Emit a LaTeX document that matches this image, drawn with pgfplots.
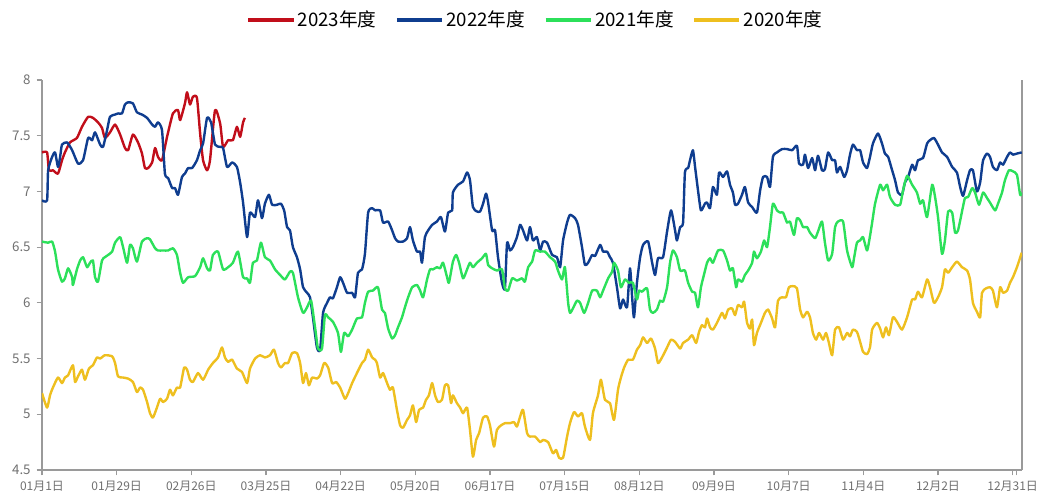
\documentclass[border=0pt]{standalone}
\usepackage{pgfplots}
\pgfplotsset{compat=1.18}
\usepackage{fontspec}
\setmainfont{Noto Sans CJK SC}
\definecolor{cRed}{HTML}{C10E1A}
\definecolor{cBlue}{HTML}{0F3D8F}
\definecolor{cGreen}{HTML}{2CE05A}
\definecolor{cYellow}{HTML}{EEBF1F}
\definecolor{cAxis}{HTML}{9A9A9A}
\definecolor{cTick}{HTML}{707070}
\begin{document}
\begin{tikzpicture}
\begin{axis}[name=ax,
  scale only axis, width=735pt, height=292.5pt,
  xmin=0, xmax=367.5, ymin=4.5, ymax=8,
  axis x line*=bottom, axis y line*=box, ytick pos=left,
  axis line style={cAxis, line width=0.9pt, -},
  tick align=outside, major tick length=4pt,
  tick style={cAxis, line width=0.8pt},
  xtick={0,28,56,84,112,140,168,196,224,252,280,308,336,364},
  xticklabels={01月1日,01月29日,02月26日,03月25日,04月22日,05月20日,06月17日,07月15日,08月12日,09月9日,10月7日,11月4日,12月2日,12月31日},
  extra x ticks={365.6}, extra x tick labels={},
  ytick={4.5,5,5.5,6,6.5,7,7.5,8},
  yticklabels={4.5,5,5.5,6,6.5,7,7.5,8},
  ticklabel style={font=\fontsize{9pt}{10pt}\selectfont, text=cTick},
  yticklabel style={font=\fontsize{10pt}{11pt}\selectfont, xshift=-1pt},
  /pgf/number format/assume math mode=true,
  xticklabel style={yshift=-1pt},
  legend columns=4,
  legend style={at={(0.504,1.154)}, anchor=center, draw=none, fill=none,
    font=\fontsize{14pt}{16pt}\selectfont,
    /tikz/every even column/.append style={column sep=12pt}},
  legend image code/.code={\draw[#1, line width=2.4pt] (0pt,0pt) -- (34pt,0pt);},
  every axis plot/.append style={line width=1.8pt, line join=round, smooth, tension=0.35},
]
\addplot[cRed] coordinates {
(0,7.35)(1.9,7.35)(2.6,7.19)(4.1,7.19)(6.0,7.16)(7.5,7.28)(8.6,7.35)(10.5,7.44)(13.1,7.48)(15.0,7.58)(17.3,7.67)(19.1,7.66)(21.0,7.62)(22.5,7.57)(23.6,7.48)(25.5,7.53)(27.4,7.60)(29.3,7.51)(31.1,7.39)(32.3,7.37)(34.1,7.51)(36.0,7.44)(37.5,7.34)(38.6,7.21)(39.8,7.21)(41.3,7.26)(42.4,7.39)(43.5,7.31)(45.0,7.28)(46.9,7.49)(49.1,7.70)(51.0,7.73)(51.8,7.64)(53.6,7.79)(54.4,7.89)(55.5,7.78)(56.6,7.85)(58.1,7.84)(59.3,7.52)(60.4,7.28)(61.9,7.19)(63.0,7.28)(64.9,7.73)(66.8,7.61)(67.9,7.40)(69.8,7.46)(71.6,7.46)(73.1,7.58)(74.3,7.49)(75.4,7.62)(76.1,7.66)
};
\addlegendentry{2023年度}
\addplot[cBlue] coordinates {
(0,6.92)(1.9,6.92)(2.3,7.19)(3.8,7.31)(4.9,7.35)(6.0,7.22)(6.8,7.31)(7.5,7.42)(9.4,7.44)(11.3,7.37)(13.5,7.25)(15.4,7.28)(17.3,7.48)(18.8,7.46)(19.9,7.53)(21.8,7.42)(22.9,7.40)(24.4,7.55)(25.5,7.67)(27.4,7.69)(28.5,7.70)(30.0,7.70)(31.1,7.78)(32.3,7.80)(34.1,7.79)(35.6,7.71)(37.5,7.69)(39.4,7.66)(41.3,7.60)(42.4,7.58)(43.5,7.62)(45.0,7.55)(46.1,7.16)(47.3,7.12)(48.8,7.03)(49.9,7.03)(51.0,6.97)(52.5,7.13)(53.6,7.16)(54.8,7.21)(56.3,7.21)(58.1,7.28)(59.3,7.37)(60.4,7.43)(61.9,7.66)(63.4,7.62)(64.9,7.42)(66.8,7.40)(67.9,7.39)(69.4,7.22)(71.3,7.26)(73.1,7.22)(74.3,7.08)(75.4,6.90)(76.9,6.59)(78.0,6.81)(79.9,6.77)(81.0,6.92)(82.5,6.76)(83.6,6.89)(85.1,6.97)(86.3,6.88)(88.1,6.88)(89.6,6.89)(90.8,6.83)(91.9,6.68)(93.0,6.65)(94.1,6.50)(95.6,6.41)(96.8,6.30)(97.9,6.14)(99.4,6.09)(100.5,6.05)(101.6,5.87)(103.1,5.60)(104.3,5.58)(105.4,5.91)(106.9,6.00)(108.0,6.05)(109.1,6.04)(110.6,6.14)(111.8,6.23)(112.9,6.18)(114.4,6.09)(116.3,6.09)(117.4,6.05)(118.5,6.27)(120.0,6.30)(121.1,6.44)(122.3,6.81)(123.8,6.85)(124.9,6.83)(126.8,6.83)(127.9,6.72)(129.8,6.73)(131.3,6.65)(132.4,6.58)(133.5,6.55)(135.4,6.55)(136.9,6.58)(138.0,6.68)(139.1,6.56)(140.6,6.46)(141.8,6.46)(142.5,6.36)(143.6,6.59)(144.8,6.65)(146.3,6.70)(148.1,6.73)(149.6,6.77)(151.1,6.64)(152.3,6.81)(153.8,6.83)(154.1,6.99)(156.0,7.06)(157.9,7.09)(159.4,7.17)(160.5,7.10)(161.6,6.86)(163.1,6.82)(164.3,6.82)(165.4,6.89)(166.5,6.98)(167.3,6.90)(168.8,6.65)(169.9,6.65)(171.0,6.41)(172.5,6.18)(173.6,6.13)(174.4,6.54)(175.5,6.47)(176.6,6.50)(178.1,6.59)(179.3,6.70)(180.4,6.65)(181.9,6.56)(183.0,6.68)(184.1,6.56)(185.6,6.59)(186.8,6.47)(187.9,6.55)(189.4,6.54)(191.3,6.43)(193.1,6.41)(194.3,6.32)(195.4,6.56)(196.9,6.72)(198.0,6.79)(199.9,6.76)(201.0,6.70)(202.5,6.50)(203.6,6.34)(204.8,6.36)(206.3,6.43)(207.4,6.42)(209.3,6.52)(210.4,6.46)(211.9,6.46)(213.0,6.41)(214.1,6.36)(215.6,6.14)(216.8,5.95)(217.9,6.03)(219.4,5.96)(220.5,6.31)(221.3,6.05)(222.0,5.87)(223.1,6.18)(224.3,6.41)(225.4,6.52)(227.3,6.55)(228.8,6.36)(229.9,6.25)(231.0,6.40)(232.9,6.41)(234.4,6.64)(235.9,6.83)(237.4,6.65)(238.1,6.56)(239.3,6.68)(240.4,6.72)(241.1,7.17)(242.3,7.21)(243.0,7.28)(244.1,7.37)(244.9,7.22)(246.0,7.01)(247.1,6.83)(248.6,6.89)(249.4,6.90)(250.5,6.85)(251.6,7.04)(253.1,6.97)(253.9,7.17)(255.4,7.13)(256.9,7.18)(258.0,7.06)(259.1,6.99)(259.9,6.88)(261.0,6.89)(262.5,6.97)(263.6,7.04)(264.8,6.90)(266.3,6.86)(268.1,6.81)(269.3,7.01)(270.4,7.13)(271.9,7.13)(273.0,7.04)(274.1,7.31)(275.6,7.35)(277.5,7.38)(279.4,7.38)(281.3,7.37)(283.1,7.41)(283.9,7.25)(285.4,7.24)(286.1,7.33)(287.3,7.21)(288.8,7.30)(289.9,7.19)(291.0,7.32)(292.5,7.19)(293.6,7.20)(294.8,7.35)(296.3,7.28)(297.4,7.28)(298.1,7.17)(299.3,7.22)(300.8,7.13)(301.9,7.19)(303.0,7.33)(304.1,7.42)(305.6,7.37)(306.8,7.37)(307.9,7.26)(309.4,7.21)(310.5,7.31)(311.6,7.43)(313.5,7.52)(315.0,7.43)(316.1,7.34)(317.3,7.31)(318.8,7.19)(319.9,7.10)(321.0,6.99)(322.5,6.97)(323.6,7.08)(324.8,7.13)(326.3,7.24)(327.4,7.19)(328.5,7.28)(330.4,7.30)(331.9,7.43)(333.0,7.46)(334.5,7.48)(336.0,7.42)(337.5,7.35)(339.4,7.31)(341.3,7.22)(343.1,7.17)(344.3,7.04)(345.4,6.96)(346.9,7.10)(348.0,7.19)(349.1,7.19)(350.6,7.00)(351.8,7.08)(352.9,7.28)(354.4,7.34)(355.5,7.31)(356.6,7.22)(358.1,7.19)(359.3,7.26)(360.4,7.24)(361.9,7.31)(363.0,7.35)(364.1,7.33)(365.6,7.34)(367.4,7.35)
};
\addlegendentry{2022年度}
\addplot[cGreen] coordinates {
(0,6.55)(2.3,6.54)(3.8,6.55)(4.9,6.46)(6.0,6.30)(7.5,6.19)(8.6,6.22)(9.8,6.31)(11.3,6.23)(11.6,6.16)(13.1,6.30)(14.3,6.38)(15.4,6.41)(16.9,6.32)(18.0,6.36)(19.1,6.38)(19.9,6.23)(21.0,6.19)(22.5,6.38)(23.6,6.41)(24.8,6.43)(26.3,6.46)(27.4,6.54)(29.3,6.59)(30.4,6.50)(31.9,6.36)(33.0,6.52)(34.1,6.49)(35.6,6.37)(37.5,6.55)(39.4,6.58)(40.5,6.57)(42.4,6.49)(43.5,6.47)(45.4,6.47)(47.3,6.47)(49.1,6.49)(50.6,6.43)(51.8,6.27)(52.9,6.18)(54.8,6.23)(57.4,6.24)(59.3,6.32)(60.4,6.40)(61.9,6.31)(63.0,6.29)(64.1,6.43)(66.0,6.46)(67.9,6.30)(69.8,6.32)(71.6,6.36)(73.5,6.46)(75.4,6.23)(76.9,6.22)(78.0,6.18)(79.1,6.36)(80.6,6.38)(82.1,6.54)(83.6,6.41)(85.5,6.38)(87.4,6.30)(89.3,6.25)(91.1,6.21)(93.0,6.28)(94.1,6.27)(96.0,6.05)(97.9,5.91)(99.4,5.96)(100.9,6.02)(102.4,5.78)(103.5,5.59)(105.0,5.59)(106.1,5.89)(107.3,5.87)(109.1,5.83)(111.0,5.73)(112.1,5.56)(113.3,5.73)(114.8,5.70)(116.3,5.76)(118.1,5.86)(120.0,5.87)(121.1,6.00)(122.3,6.10)(124.1,6.11)(126.0,6.14)(127.5,5.94)(128.6,5.91)(129.8,5.77)(131.3,5.68)(132.4,5.71)(133.5,5.78)(135.0,5.87)(136.1,5.96)(137.3,6.05)(138.8,6.14)(140.6,6.16)(141.8,6.11)(142.9,6.05)(144.4,6.21)(145.5,6.30)(146.6,6.30)(148.1,6.32)(149.3,6.31)(150.4,6.36)(151.9,6.23)(152.6,6.18)(154.1,6.37)(155.3,6.43)(156.4,6.36)(157.9,6.22)(159.4,6.30)(160.5,6.36)(161.6,6.32)(163.1,6.36)(165.0,6.40)(166.5,6.44)(167.3,6.34)(168.8,6.31)(170.6,6.29)(172.5,6.30)(173.6,6.13)(174.8,6.11)(176.3,6.22)(178.1,6.20)(180.0,6.22)(181.1,6.19)(182.3,6.32)(183.8,6.37)(184.9,6.47)(186.8,6.46)(188.6,6.46)(190.5,6.41)(192.4,6.37)(193.5,6.29)(195.0,6.21)(196.1,6.32)(197.3,6.00)(198.0,5.91)(199.1,5.95)(200.6,6.02)(201.8,6.00)(203.3,5.91)(204.8,6.00)(206.3,6.11)(208.1,6.11)(209.3,6.05)(210.4,6.11)(212.3,6.22)(213.8,6.28)(214.5,6.36)(216.0,6.29)(217.1,6.14)(218.6,6.21)(220.1,6.18)(221.6,6.18)(223.1,6.03)(223.9,6.11)(225.0,6.10)(226.9,6.13)(228.0,5.94)(229.1,5.91)(230.6,5.94)(231.8,6.02)(232.9,6.01)(234.4,6.14)(235.5,6.36)(236.6,6.47)(238.1,6.41)(239.3,6.29)(241.1,6.29)(242.3,6.18)(243.8,6.10)(244.9,6.09)(246.0,5.96)(247.1,6.14)(247.9,6.22)(249.4,6.36)(250.5,6.40)(251.6,6.36)(253.5,6.47)(255.4,6.47)(256.9,6.38)(258.0,6.29)(259.1,6.31)(260.3,6.14)(261.0,6.21)(262.5,6.19)(263.6,6.25)(264.8,6.29)(266.3,6.36)(267.0,6.46)(268.1,6.40)(269.6,6.46)(270.8,6.56)(271.9,6.50)(273.0,6.68)(274.1,6.89)(275.6,6.83)(276.8,6.81)(277.9,6.81)(279.4,6.72)(280.5,6.73)(282.0,6.61)(283.1,6.76)(284.3,6.74)(285.4,6.68)(286.9,6.68)(288.0,6.63)(289.9,6.58)(291.0,6.64)(292.5,6.73)(293.6,6.54)(294.8,6.38)(296.3,6.44)(297.4,6.68)(298.5,6.73)(300.4,6.73)(301.9,6.47)(303.8,6.32)(304.5,6.40)(305.6,6.54)(306.8,6.56)(307.9,6.59)(309.4,6.47)(310.5,6.60)(311.3,6.72)(312.4,6.89)(314.3,7.06)(315.4,7.01)(316.9,7.06)(318.0,6.95)(319.9,6.88)(321.8,6.88)(322.9,7.01)(324.4,7.14)(326.3,7.06)(328.1,6.99)(329.3,6.89)(330.4,6.92)(331.9,6.77)(333.8,7.06)(334.9,6.95)(336.0,6.77)(337.5,6.44)(338.6,6.56)(339.8,6.82)(341.3,6.81)(342.4,6.63)(343.5,6.65)(345.0,6.82)(346.1,6.94)(347.3,6.95)(348.8,7.03)(349.9,6.99)(351.4,6.88)(352.9,6.99)(354.4,6.94)(355.5,6.90)(357.4,6.83)(358.5,6.89)(360.0,6.99)(361.1,7.10)(362.6,7.19)(364.1,7.18)(365.6,7.15)(366.8,6.97)(367.4,6.99)
};
\addlegendentry{2021年度}
\addplot[cYellow] coordinates {
(0,5.19)(1.9,5.06)(3.0,5.17)(4.1,5.24)(6.0,5.33)(7.5,5.28)(8.6,5.33)(9.8,5.35)(11.6,5.44)(12.4,5.29)(13.5,5.34)(15.0,5.40)(16.1,5.31)(17.6,5.41)(19.1,5.44)(20.6,5.51)(21.8,5.50)(23.6,5.53)(26.3,5.52)(27.4,5.46)(28.5,5.34)(30.4,5.33)(32.3,5.32)(34.1,5.29)(35.6,5.20)(36.8,5.24)(37.9,5.22)(39.4,5.11)(40.5,5.01)(41.6,4.97)(43.1,5.06)(44.3,5.14)(45.4,5.11)(46.9,5.14)(48.0,5.22)(49.1,5.17)(50.6,5.24)(51.8,5.24)(53.3,5.42)(54.4,5.40)(55.5,5.31)(56.6,5.29)(58.5,5.37)(60.4,5.31)(62.3,5.40)(64.1,5.46)(66.0,5.51)(67.5,5.60)(68.6,5.51)(69.8,5.47)(71.3,5.49)(73.1,5.41)(75.0,5.38)(76.9,5.28)(78.0,5.41)(79.9,5.50)(81.8,5.53)(83.6,5.51)(85.5,5.53)(87.0,5.58)(88.5,5.46)(89.6,5.42)(91.1,5.46)(92.3,5.46)(93.8,5.55)(95.6,5.55)(96.8,5.46)(97.9,5.28)(99.0,5.37)(100.1,5.26)(101.3,5.33)(103.1,5.32)(104.3,5.35)(105.8,5.46)(107.3,5.42)(108.8,5.28)(110.3,5.29)(111.8,5.24)(113.6,5.14)(114.8,5.19)(116.3,5.28)(118.1,5.37)(120.0,5.46)(121.1,5.49)(122.3,5.58)(123.8,5.51)(124.9,5.49)(125.6,5.46)(126.8,5.33)(127.9,5.37)(129.4,5.28)(130.5,5.22)(131.6,5.24)(133.1,5.04)(134.3,4.90)(135.4,4.88)(136.9,4.95)(138.0,4.99)(139.1,5.08)(140.3,4.93)(141.4,5.04)(142.9,5.06)(144.0,5.13)(145.1,5.17)(146.3,5.28)(147.4,5.17)(148.5,5.11)(150.0,5.13)(151.1,5.26)(152.3,5.26)(153.4,5.10)(154.1,5.17)(155.6,5.10)(156.8,5.06)(157.9,5.01)(159.4,5.06)(160.5,4.86)(161.6,4.62)(162.8,4.77)(163.9,4.83)(165.4,4.97)(166.9,4.98)(168.0,4.90)(169.5,4.71)(170.6,4.86)(172.1,4.90)(173.6,4.92)(175.5,4.92)(177.0,4.93)(178.1,4.89)(179.3,4.98)(180.4,5.04)(181.9,4.83)(183.0,4.80)(184.9,4.80)(186.8,4.75)(187.9,4.77)(189.8,4.75)(191.6,4.65)(192.8,4.68)(193.9,4.61)(195.4,4.61)(196.9,4.80)(198.0,4.92)(199.5,5.02)(201.0,4.98)(202.5,5.01)(203.6,4.89)(205.5,4.77)(206.6,5.01)(208.5,5.17)(209.6,5.31)(211.1,5.13)(213.0,5.10)(214.5,4.95)(216.0,5.22)(217.1,5.33)(218.3,5.42)(219.8,5.49)(221.6,5.49)(223.1,5.58)(224.3,5.62)(225.4,5.69)(226.9,5.64)(228.4,5.68)(229.9,5.59)(231.0,5.46)(232.5,5.51)(234.4,5.60)(235.9,5.67)(237.4,5.65)(239.3,5.59)(240.4,5.64)(242.3,5.67)(243.8,5.71)(245.3,5.64)(246.4,5.74)(247.5,5.80)(248.6,5.78)(249.4,5.86)(250.5,5.78)(251.6,5.76)(253.1,5.82)(255.0,5.91)(256.1,5.86)(257.3,5.94)(258.8,5.95)(259.9,5.89)(261.0,5.98)(262.5,5.96)(263.3,6.01)(264.4,5.82)(265.5,5.77)(266.3,5.85)(267.0,5.62)(268.1,5.73)(269.6,5.82)(271.1,5.91)(272.3,5.94)(273.8,5.86)(274.9,5.78)(276.0,6.02)(277.5,6.05)(279.0,6.05)(280.1,6.14)(281.6,6.15)(283.1,6.13)(284.3,5.94)(285.4,5.87)(286.9,5.92)(288.0,5.87)(289.1,5.73)(290.3,5.67)(291.4,5.73)(292.9,5.67)(294.0,5.73)(295.1,5.64)(296.3,5.53)(297.4,5.76)(298.9,5.78)(300.4,5.67)(301.9,5.73)(303.0,5.70)(304.1,5.76)(305.6,5.74)(306.8,5.65)(307.9,5.56)(309.4,5.54)(310.5,5.60)(311.3,5.76)(313.1,5.82)(314.3,5.77)(315.4,5.69)(316.5,5.78)(317.6,5.71)(319.1,5.87)(320.6,5.83)(322.5,5.76)(324.4,5.87)(326.3,6.03)(327.4,6.03)(328.5,6.10)(330.0,6.05)(331.9,6.21)(333.0,6.14)(334.5,6.00)(336.0,6.05)(337.5,6.14)(338.6,6.30)(339.8,6.27)(341.3,6.32)(343.1,6.37)(345.0,6.32)(346.9,6.29)(348.0,6.21)(349.1,6.00)(350.6,5.92)(351.8,5.87)(352.5,6.09)(354.0,6.13)(355.5,6.14)(356.6,6.11)(358.1,5.96)(359.3,6.14)(360.4,6.09)(361.9,6.11)(363.0,6.18)(364.1,6.23)(365.6,6.32)(367.4,6.45)
};
\addlegendentry{2020年度}
\end{axis}
\pgfresetboundingbox
\path ([xshift=-31.5pt,yshift=-19.5pt]ax.south west) rectangle ([xshift=21pt,yshift=60pt]ax.north east);
\end{tikzpicture}
\end{document}
